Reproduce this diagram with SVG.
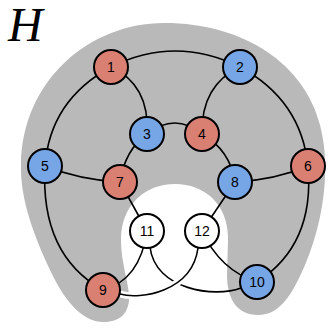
<svg xmlns="http://www.w3.org/2000/svg" width="328" height="328" viewBox="0 0 328 328">
<style>
.e{fill:none;stroke:#000;stroke-width:1.6}
.n circle{stroke:#000;stroke-width:2}
.r{fill:#d98073}
.b{fill:#77a6e6}
.w{fill:#fff}
.n text{font-family:"Liberation Sans",Arial,sans-serif;font-size:14px;text-anchor:middle;dominant-baseline:central;fill:#000}
</style>
<rect width="328" height="328" fill="#fff"/>
<path id="region" fill="#b9b9b9" d="M 164 23 C 245 23 305 65 320 125 C 332 170 322 225 305 265 C 292 295 280 315 258 315 C 238 315 227 300 227 275 L 228 240 C 229 205 205 184 175 184 C 145 184 121 205 121 240 C 121 265 130 285 129 300 C 128 315 118 322 103 322 C 85 322 68 305 55 280 C 35 240 20 200 21 165 C 22 80 90 23 164 23 Z"/>
<text x="8" y="41" font-family="'Liberation Serif','Times New Roman',serif" font-style="italic" font-size="48">H</text>
<g id="connectors">
<path class="e" d="M 111 67 Q 175 35 240 67"/>
<path class="e" d="M 111 67 Q 50 100 45 166"/>
<path class="e" d="M 111 67 Q 150 85 147 134"/>
<path class="e" d="M 240 67 Q 201 85 202 134"/>
<path class="e" d="M 240 67 Q 301 100 308 166"/>
<path class="e" d="M 147 134 Q 175 112 202 134"/>
<path class="e" d="M 147 134 Q 125 150 120 182"/>
<path class="e" d="M 202 134 Q 230 150 235 182"/>
<path class="e" d="M 45 166 Q 80 180 120 182"/>
<path class="e" d="M 308 166 Q 275 180 235 182"/>
<path class="e" d="M 45 166 Q 40 255 103 290"/>
<path class="e" d="M 308 166 Q 315 245 257 282"/>
<path class="e" d="M 120 182 L 147 231"/>
<path class="e" d="M 235 182 L 202 231"/>
<path class="e" d="M 147 231 Q 140 280 103 290"/>
<path class="e" d="M 202 231 Q 220 270 257 282"/>
<path class="e" d="M 150 247 C 155 290 215 298 241 288"/>
<path fill="none" stroke="#fff" stroke-width="7" d="M 198 248 C 192 292 140 300 120 294"/>
<path class="e" d="M 198 248 C 192 292 140 300 120 294"/>
</g>
<g id="n1" class="n"><circle class="r" cx="111" cy="67" r="17"/><text x="111" y="67">1</text></g>
<g id="n2" class="n"><circle class="b" cx="240" cy="67" r="17"/><text x="240" y="67">2</text></g>
<g id="n3" class="n"><circle class="b" cx="147" cy="134" r="17"/><text x="147" y="134">3</text></g>
<g id="n4" class="n"><circle class="r" cx="202" cy="134" r="17"/><text x="202" y="134">4</text></g>
<g id="n5" class="n"><circle class="b" cx="45" cy="166" r="17"/><text x="45" y="166">5</text></g>
<g id="n6" class="n"><circle class="r" cx="308" cy="166" r="17"/><text x="308" y="166">6</text></g>
<g id="n7" class="n"><circle class="r" cx="120" cy="182" r="17"/><text x="120" y="182">7</text></g>
<g id="n8" class="n"><circle class="b" cx="235" cy="182" r="17"/><text x="235" y="182">8</text></g>
<g id="n9" class="n"><circle class="r" cx="103" cy="290" r="17"/><text x="103" y="290">9</text></g>
<g id="n10" class="n"><circle class="b" cx="257" cy="282" r="17"/><text x="257" y="282">10</text></g>
<g id="n11" class="n"><circle class="w" cx="147" cy="231" r="17"/><text x="147" y="231">11</text></g>
<g id="n12" class="n"><circle class="w" cx="202" cy="231" r="17"/><text x="202" y="231">12</text></g>
</svg>
